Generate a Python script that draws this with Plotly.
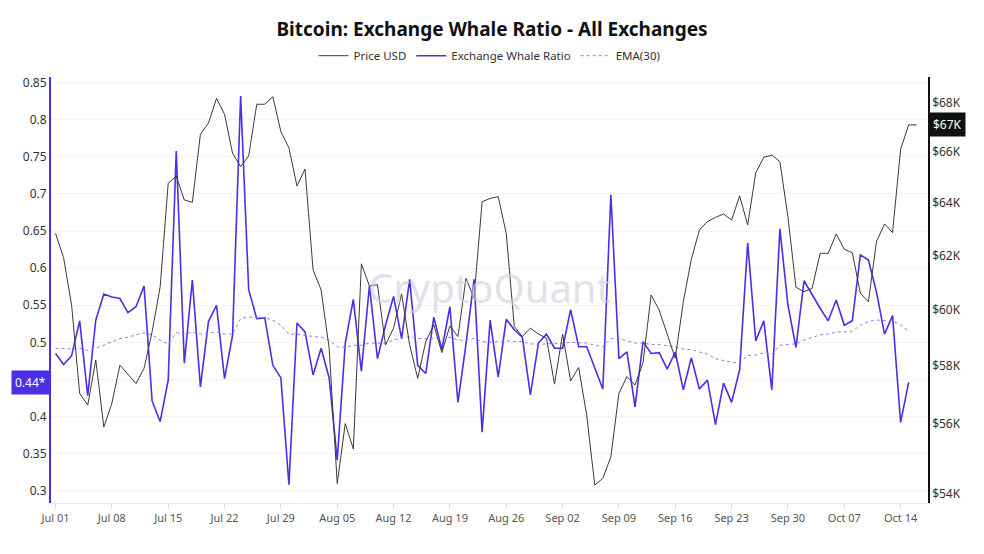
import math
import pandas as pd
import plotly.graph_objects as go

start_date = "2024-07-01"

price_k = [62.83, 61.92, 60.17, 57.05, 56.65, 58.21, 55.90, 56.71, 58.03, 57.70,
           57.39, 57.92, 59.21, 60.84, 64.76, 65.04, 64.11, 64.02, 66.70, 67.15,
           68.16, 67.51, 65.94, 65.41, 65.84, 67.92, 67.92, 68.23, 66.81, 66.16,
           64.65, 65.32, 61.46, 60.72, 58.62, 54.03, 56.02, 55.17, 61.69, 60.87,
           60.92, 58.74, 59.34, 60.58, 58.74, 57.57, 58.86, 59.46, 58.47, 59.42,
           59.04, 61.15, 60.42, 64.04, 64.17, 64.24, 62.83, 59.40, 59.04, 59.34,
           59.13, 58.98, 57.37, 59.13, 57.48, 57.95, 56.30, 53.98, 54.20, 54.91,
           57.05, 57.63, 57.34, 58.12, 60.54, 59.99, 59.16, 58.27, 60.29, 61.86,
           62.96, 63.28, 63.44, 63.57, 63.34, 64.27, 63.15, 65.17, 65.78, 65.87,
           65.61, 63.46, 60.82, 60.66, 60.78, 62.08, 62.08, 62.81, 62.23, 62.10,
           60.60, 60.29, 62.52, 63.19, 62.86, 66.10, 67.08, 67.08]

whale_ratio = [0.485, 0.470, 0.482, 0.529, 0.428, 0.530, 0.565, 0.561, 0.559, 0.540,
               0.548, 0.576, 0.421, 0.393, 0.449, 0.758, 0.472, 0.584, 0.440, 0.528,
               0.550, 0.451, 0.510, 0.832, 0.571, 0.532, 0.533, 0.469, 0.452, 0.308,
               0.526, 0.514, 0.456, 0.492, 0.452, 0.341, 0.499, 0.558, 0.461, 0.576,
               0.478, 0.523, 0.562, 0.505, 0.585, 0.469, 0.458, 0.534, 0.490, 0.548,
               0.419, 0.498, 0.585, 0.379, 0.530, 0.453, 0.531, 0.517, 0.507, 0.429,
               0.499, 0.511, 0.492, 0.492, 0.544, 0.494, 0.494, 0.465, 0.437, 0.699,
               0.478, 0.487, 0.413, 0.501, 0.485, 0.486, 0.464, 0.487, 0.436, 0.479,
               0.437, 0.449, 0.389, 0.445, 0.419, 0.463, 0.634, 0.502, 0.529, 0.436,
               0.653, 0.550, 0.493, 0.583, 0.564, 0.546, 0.529, 0.557, 0.523, 0.529,
               0.618, 0.611, 0.568, 0.511, 0.536, 0.392, 0.446]

ema30 = [0.492, 0.491, 0.491, 0.492, 0.489, 0.492, 0.496, 0.501, 0.505, 0.507,
         0.510, 0.513, 0.510, 0.503, 0.498, 0.513, 0.511, 0.514, 0.511, 0.512,
         0.514, 0.511, 0.511, 0.532, 0.534, 0.533, 0.533, 0.530, 0.523, 0.511,
         0.511, 0.509, 0.508, 0.507, 0.503, 0.494, 0.493, 0.496, 0.496, 0.499,
         0.499, 0.499, 0.503, 0.505, 0.508, 0.505, 0.505, 0.505, 0.505, 0.507,
         0.503, 0.503, 0.505, 0.501, 0.500, 0.501, 0.502, 0.501, 0.501, 0.498,
         0.497, 0.498, 0.498, 0.499, 0.500, 0.500, 0.499, 0.496, 0.494, 0.505,
         0.505, 0.502, 0.499, 0.499, 0.497, 0.497, 0.496, 0.494, 0.491, 0.490,
         0.487, 0.484, 0.478, 0.475, 0.473, 0.472, 0.482, 0.483, 0.486, 0.484,
         0.496, 0.497, 0.498, 0.503, 0.507, 0.510, 0.511, 0.514, 0.514, 0.515,
         0.523, 0.528, 0.530, 0.529, 0.529, 0.523, 0.515]

left_ticks = [0.3, 0.35, 0.4, 0.45, 0.5, 0.55, 0.6, 0.65, 0.7, 0.75, 0.8, 0.85]
left_tick_text = ["0.3", "0.35", "0.4", "", "0.5", "0.55", "0.6", "0.65", "0.7", "0.75", "0.8", "0.85"]
right_ticks = [53700, 56000, 58000, 60000, 62000, 64000, 66000, 68000]
right_tick_text = ["$54K", "$56K", "$58K", "$60K", "$62K", "$64K", "$66K", "$68K"]

dates_price = pd.date_range(start_date, periods=len(price_k), freq="D")
dates_ratio = dates_price[:len(whale_ratio)]
price_usd = [p * 1000 for p in price_k]

BLUE = "#4a2fe6"
FONT = "Noto Sans"

fig = go.Figure()
fig.add_trace(go.Scatter(x=dates_price, y=price_usd, name="Price USD", yaxis="y2",
                         mode="lines", line=dict(color="#3a3a3a", width=1)))
fig.add_trace(go.Scatter(x=dates_ratio, y=whale_ratio, name="Exchange Whale Ratio",
                         mode="lines", line=dict(color=BLUE, width=1.6)))
fig.add_trace(go.Scatter(x=dates_ratio, y=ema30, name="EMA(30)",
                         mode="lines", line=dict(color="#8b7ef2", width=1, dash="dot")))

fig.update_layout(
    width=984, height=554,
    margin=dict(l=51, r=56, t=77, b=51, autoexpand=False),
    paper_bgcolor="white", plot_bgcolor="white",
    font=dict(family=FONT, size=12, color="#333333"),
    title=dict(text="<b>Bitcoin: Exchange Whale Ratio - All Exchanges</b>",
               x=0.5, xanchor="center", y=1 - 29 / 554, yanchor="middle",
               font=dict(family=FONT, size=19, color="#111111")),
    legend=dict(orientation="h", x=0.5, xanchor="center", y=1.05, yanchor="middle",
                font=dict(size=11.5, color="#333333"), bgcolor="rgba(0,0,0,0)",
                itemwidth=30, traceorder="normal"),
    showlegend=True,
    xaxis=dict(type="date", range=["2024-06-30 10:30", "2024-10-17 09:40"],
               tick0="2024-07-01", dtick=7 * 24 * 3600 * 1000, tickformat="%b %d",
               showgrid=False, showline=True, linecolor="#e8e8e8", linewidth=1,
               ticks="outside", ticklen=5, tickcolor="#dddddd",
               tickfont=dict(size=11, color="#555555"), zeroline=False),
    yaxis=dict(range=[0.2834, 0.8577], tickvals=left_ticks, ticktext=left_tick_text,
               showgrid=True, gridcolor="#f3f3f3", gridwidth=1,
               showline=True, linecolor=BLUE, linewidth=2, ticks="",
               tickfont=dict(size=12, color="#333333"), zeroline=False),
    yaxis2=dict(type="log", overlaying="y", side="right",
                range=[math.log10(53400), math.log10(69046)],
                tickvals=right_ticks, ticktext=right_tick_text,
                showgrid=False, showline=True, linecolor="#111111", linewidth=1.5,
                ticks="", tickfont=dict(size=12, color="#333333"), zeroline=False),
)

# watermark
fig.add_annotation(text="CryptoQuant", xref="paper", yref="paper", x=0.5, y=0.507,
                   showarrow=False, font=dict(family=FONT, size=40, color="rgba(205,205,220,0.6)"))

# last value markers
last_ratio = whale_ratio[-1]
fig.add_annotation(text="0.44*", xref="paper", yref="y", x=0, y=last_ratio,
                   xanchor="right", yanchor="middle", showarrow=False,
                   bgcolor=BLUE, borderpad=3, xshift=-1,
                   font=dict(family=FONT, size=12, color="white"))
fig.add_annotation(text="$67K", xref="paper", yref="y2", x=1, y=math.log10(price_usd[-1]),
                   xanchor="left", yanchor="middle", showarrow=False,
                   bgcolor="#111111", borderpad=3, xshift=1,
                   font=dict(family=FONT, size=12, color="white"))

fig.write_html("out.html", config={"displayModeBar": False},
               post_script="document.body.style.margin='0';")
